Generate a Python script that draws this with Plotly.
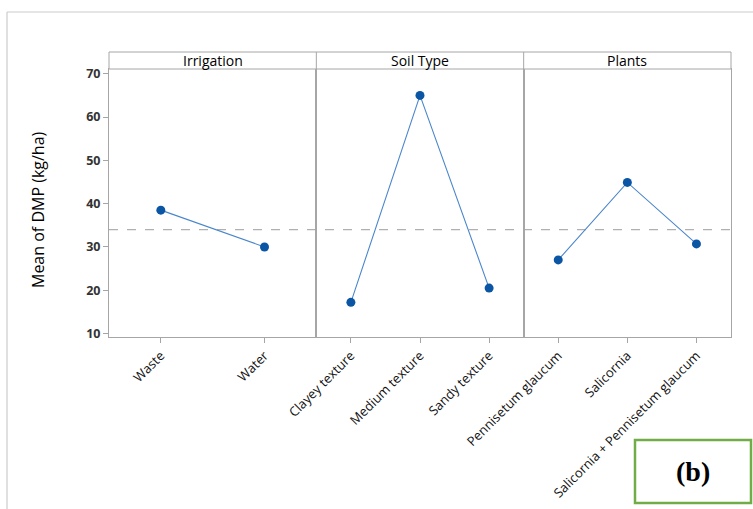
import plotly.graph_objects as go
from plotly.subplots import make_subplots

# Main effects of each factor on mean DMP (kg/ha)
factors = ["Irrigation", "Soil Type", "Plants"]

irrigation_levels = ["Waste", "Water"]
irrigation_means = [38.5, 30.0]

soil_levels = ["Clayey texture", "Medium texture", "Sandy texture"]
soil_means = [17.2, 65.0, 20.5]

plant_levels = ["Pennisetum glaucum", "Salicornia", "Salicornia + Pennisetum glaucum"]
plant_means = [27.0, 44.9, 30.7]

grand_mean = 34.0

y_ticks = [10, 20, 30, 40, 50, 60, 70]
y_range = [9.2, 71.1]

W, H = 753, 509
ML, MR, MT, MB = 109, 22, 69, 172
PW, PH = W - ML - MR, H - MT - MB


def px_x(p):
    return (p - ML) / PW


def px_y(p):
    return (H - MB - p) / PH


panels = [
    (irrigation_levels, irrigation_means),
    (soil_levels, soil_means),
    (plant_levels, plant_means),
]

fig = make_subplots(rows=1, cols=3, shared_yaxes=True, horizontal_spacing=0)

line_col = "#4a86cc"
mark_col = "#0b56a4"
frame_col = "#a6a6a6"
text_col = "#111111"

for i, (levels, means) in enumerate(panels, start=1):
    fig.add_trace(
        go.Scatter(
            x=levels,
            y=means,
            mode="lines+markers",
            line=dict(color=line_col, width=1.1),
            marker=dict(color=mark_col, size=9, symbol="circle"),
            showlegend=False,
            hoverinfo="x+y",
        ),
        row=1,
        col=i,
    )
    fig.update_xaxes(
        type="category",
        categoryorder="array",
        categoryarray=levels,
        range=[-0.5, len(levels) - 0.5],
        automargin=False,
        showgrid=False,
        zeroline=False,
        showline=True,
        mirror=True,
        linecolor=frame_col,
        linewidth=1,
        ticks="outside",
        ticklen=5,
        tickcolor=frame_col,
        tickangle=-45,
        tickfont=dict(family="Open Sans", size=13, color=text_col),
        row=1,
        col=i,
    )
    fig.update_yaxes(
        range=y_range,
        automargin=False,
        showgrid=False,
        zeroline=False,
        showline=True,
        mirror=True,
        linecolor=frame_col,
        linewidth=1,
        row=1,
        col=i,
    )

fig.update_yaxes(
    tickvals=y_ticks,
    ticks="outside",
    ticklen=5,
    tickcolor=frame_col,
    tickfont=dict(family="Open Sans", size=12.5, color="#333333", weight="bold"),
    row=1,
    col=1,
)

shapes = []
# Reference line at the grand mean
shapes.append(
    dict(
        type="line", xref="paper", yref="y", x0=0, x1=1, y0=grand_mean, y1=grand_mean,
        line=dict(color="#b0b0b0", width=1.2, dash="dash"), layer="below",
    )
)
# Strip header band above the panels
strip_top = px_y(52)
shapes.append(
    dict(type="rect", xref="paper", yref="paper", x0=0, x1=1, y0=1, y1=strip_top,
         line=dict(color=frame_col, width=1), fillcolor="white")
)
for k in (1, 2):
    shapes.append(
        dict(type="line", xref="paper", yref="paper", x0=k / 3, x1=k / 3, y0=1, y1=strip_top,
             line=dict(color=frame_col, width=1))
    )
# Outer figure frame
shapes.append(
    dict(type="line", xref="paper", yref="paper", x0=px_x(7), x1=px_x(W), y0=px_y(12), y1=px_y(12),
         line=dict(color="#cccccc", width=1.2))
)
shapes.append(
    dict(type="line", xref="paper", yref="paper", x0=px_x(7), x1=px_x(7), y0=px_y(12), y1=px_y(H),
         line=dict(color="#cccccc", width=1.2))
)
# Panel label box
shapes.append(
    dict(type="rect", xref="paper", yref="paper", x0=px_x(635), x1=px_x(751), y0=px_y(440), y1=px_y(503),
         line=dict(color="#70ad47", width=2.5), fillcolor="rgba(0,0,0,0)")
)

annotations = []
for k, name in enumerate(factors):
    annotations.append(
        dict(text=name, xref="paper", yref="paper", x=(k + 0.5) / 3, y=(1 + strip_top) / 2,
             showarrow=False, xanchor="center", yanchor="middle",
             font=dict(family="Open Sans", size=14, color="#000000"))
    )
annotations.append(
    dict(text="Mean of DMP (kg/ha)", xref="paper", yref="paper", x=px_x(38), y=px_y(210),
         textangle=-90, showarrow=False, xanchor="center", yanchor="middle",
         font=dict(family="Open Sans", size=16, color="#000000"))
)
annotations.append(
    dict(text="<b>(b)</b>", xref="paper", yref="paper", x=px_x(693), y=px_y(471),
         showarrow=False, xanchor="center", yanchor="middle",
         font=dict(family="Liberation Serif", size=28, color="#000000"))
)

fig.update_layout(
    width=W,
    height=H,
    margin=dict(l=ML, r=MR, t=MT, b=MB, autoexpand=False),
    paper_bgcolor="white",
    plot_bgcolor="white",
    shapes=shapes,
    annotations=annotations,
)

fig.write_html("out.html")
